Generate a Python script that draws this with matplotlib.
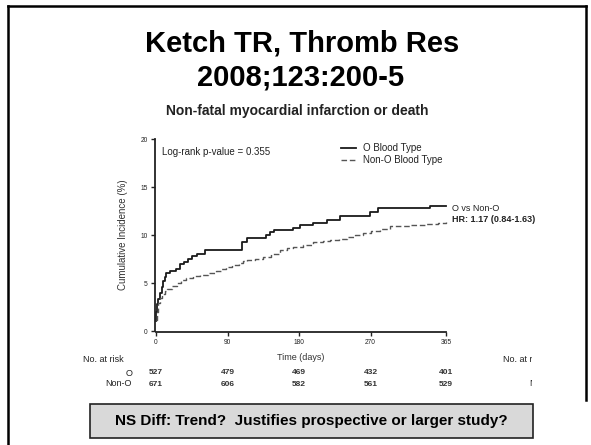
import matplotlib
matplotlib.use("Agg")
import matplotlib.pyplot as plt
from matplotlib.patches import Rectangle
from matplotlib.lines import Line2D
from matplotlib.transforms import Bbox, TransformedBbox, blended_transform_factory

plt.rcParams['font.family'] = ['Liberation Sans', 'DejaVu Sans']

W, H = 591, 445

# Kaplan-Meier style cumulative incidence (%)
o_days = [0, 0.5, 1, 3, 5, 7, 9, 11, 13, 17, 25, 30, 35, 40, 45, 52, 62, 70,
          108, 114, 138, 143, 148, 173, 181, 198, 215, 231, 269, 280, 345, 365]
o_inc = [1.0, 2.0, 2.8, 3.3, 4.0, 4.6, 5.2, 5.6, 6.0, 6.2, 6.5, 7.0, 7.2, 7.5, 7.8,
         8.0, 8.4, 8.4, 9.3, 9.65, 10.0, 10.3, 10.5, 10.7, 11.0, 11.2, 11.6, 12.0,
         12.4, 12.8, 13.0, 13.0]

non_o_days = [0, 1, 3, 5, 8, 11, 14, 20, 26, 32, 38, 46, 55, 65, 76, 82, 88, 96,
              105, 110, 114, 125, 135, 145, 156, 165, 173, 185, 198, 210, 219, 230,
              240, 250, 261, 270, 282, 294, 320, 340, 355, 365]
non_o_inc = [1.1, 2.0, 2.9, 3.4, 3.9, 4.2, 4.4, 4.7, 5.0, 5.3, 5.5, 5.7, 5.8, 6.0,
             6.2, 6.5, 6.7, 6.9, 7.05, 7.3, 7.4, 7.55, 7.7, 8.0, 8.4, 8.6, 8.8, 9.0,
             9.3, 9.4, 9.5, 9.6, 9.8, 10.0, 10.2, 10.4, 10.6, 10.9, 11.0, 11.1, 11.3, 11.4]

x_ticks = [0, 90, 180, 270, 365]
y_ticks = [0, 5, 10, 15, 20]
risk_o = [527, 479, 469, 432, 401]
risk_non_o = [671, 606, 582, 561, 529]


def fx(x):
    return x / W


def fy(y):
    return 1 - y / H


fig = plt.figure(figsize=(W / 100, H / 100), dpi=100)
fig.patch.set_facecolor("white")

# slide frame
frame = dict(color="black", lw=1.8, transform=fig.transFigure)
fig.add_artist(Line2D([fx(8), fx(8)], [fy(5.5), fy(H + 5)], **frame))
fig.add_artist(Line2D([fx(8), fx(586)], [fy(5.5), fy(5.5)], **frame))
fig.add_artist(Line2D([fx(586), fx(586)], [fy(5.5), fy(400)], **frame))

# slide titles
fig.text(fx(302), fy(43), "Ketch TR, Thromb Res", ha="center", va="center",
         fontsize=21, fontweight="bold")
fig.text(fx(301), fy(78), "2008;123:200-5", ha="center", va="center",
         fontsize=21, fontweight="bold")
fig.text(fx(297), fy(111), "Non-fatal myocardial infarction or death", ha="center",
         va="center", fontsize=10, fontweight="bold", color="#222222")

# plot area (x: 156..446 px, y: 331..139 px)
ax = fig.add_axes([fx(156), fy(331), fx(446) - fx(156), fy(139) - fy(331)])
ax.step(o_days, o_inc, where="post", color="#1a1a1a", lw=1.3, clip_on=False,
        label="O Blood Type")
ax.step(non_o_days, non_o_inc, where="post", color="#555555", lw=1.0,
        dashes=(4, 2), clip_on=False, label="Non-O Blood Type")
ax.set_xlim(0, 365)
ax.set_ylim(0, 20)
ax.set_xticks(x_ticks)
ax.set_yticks(y_ticks)
ax.tick_params(labelsize=4.8, length=3, width=1, pad=2, colors="#222222")
for lab in ax.get_xticklabels() + ax.get_yticklabels():
    lab.set_fontweight("bold")
for side in ("top", "right"):
    ax.spines[side].set_visible(False)
for side in ("left", "bottom"):
    ax.spines[side].set_linewidth(1.3)
    ax.spines[side].set_color("#222222")
    ax.spines[side].set_position(("outward", 1))
ax.set_ylabel("Cumulative Incidence (%)", fontsize=7, color="#333333", labelpad=9)
ax.set_xlabel("Time (days)", fontsize=6.5, color="#333333", labelpad=5)
ax.patch.set_alpha(0)

ax.text(0.02, 0.93, "Log-rank p-value = 0.355", transform=ax.transAxes,
        fontsize=7, va="center", ha="left", color="#222222")
leg = ax.legend(loc="upper left", bbox_to_anchor=((341 - 156) / 290, (331 - 143) / 192),
                frameon=False, fontsize=7, handlelength=1.5, handletextpad=0.8,
                labelspacing=0.25, borderpad=0, borderaxespad=0)
for t in leg.get_texts():
    t.set_color("#222222")

fig.text(fx(452), fy(208), "O vs Non-O", fontsize=6.5, va="center", color="#222222")
fig.text(fx(452), fy(220), "HR: 1.17 (0.84-1.63)", fontsize=6.5, va="center",
         color="#222222", fontweight="bold")

# numbers at risk
fig.text(fx(83), fy(360), "No. at risk", fontsize=6.5, va="center", color="#222222")
fig.text(fx(132), fy(373), "O", fontsize=6.5, va="center", ha="right", color="#222222")
fig.text(fx(132), fy(384), "Non-O", fontsize=6.5, va="center", ha="right", color="#222222")
trans = blended_transform_factory(ax.transData, fig.transFigure)
for d, a, b in zip(x_ticks, risk_o, risk_non_o):
    ax.text(d, fy(373), str(a), transform=trans, fontsize=6, ha="center",
            va="center", fontweight="bold", color="#333333", clip_on=False)
    ax.text(d, fy(384), str(b), transform=trans, fontsize=6, ha="center",
            va="center", fontweight="bold", color="#333333", clip_on=False)

# cropped copy of the risk-table labels on the right edge
clip = TransformedBbox(Bbox.from_extents(0, 0, fx(532), 1), fig.transFigure)
for txt, x, y in [("No. at risk", 503, 360), ("Non-O", 529, 384)]:
    t = fig.text(fx(x), fy(y), txt, fontsize=6.5, va="center", color="#222222")
    t.set_clip_box(clip)
    t.set_clip_on(True)

# note box
fig.add_artist(Rectangle((fx(90), fy(438)), fx(533) - fx(90), fy(404) - fy(438),
                         transform=fig.transFigure, facecolor="#d9d9d9",
                         edgecolor="#222222", lw=1.2))
fig.text(fx(311), fy(421), "NS Diff: Trend?  Justifies prospective or larger study?",
         ha="center", va="center", fontsize=11, fontweight="bold")

fig.savefig("out.png", dpi=100)
